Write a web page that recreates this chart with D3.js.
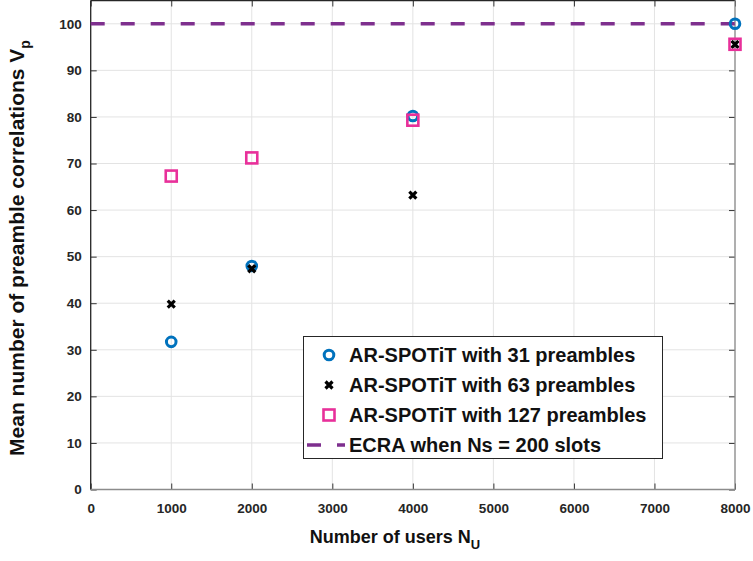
<!DOCTYPE html>
<html><head><meta charset="utf-8">
<script src="https://cdn.jsdelivr.net/npm/d3@7"></script>
<style>
html,body{margin:0;padding:0;background:#fff;}
svg{display:block;font-family:"Liberation Sans",Arial,sans-serif;}
</style></head>
<body>
<svg id="chart" width="753" height="561"></svg>
<script>
const users = [1000, 2000, 4000, 8000];
const pre31 = [31.7, 48.0, 80.2, 100.0];
const pre63 = [39.8, 47.4, 63.2, 95.6];
const pre127 = [67.3, 71.2, 79.3, 95.6];
const ecraValue = 100;
const xTicks = [0,1000,2000,3000,4000,5000,6000,7000,8000];
const yTicks = [0,10,20,30,40,50,60,70,80,90,100];
const legendLabels = ["AR-SPOTiT with 31 preambles","AR-SPOTiT with 63 preambles","AR-SPOTiT with 127 preambles","ECRA when Ns = 200 slots"];

const svg = d3.select("#chart");
const L = 90.7, R = 735, T = 0.5, B = 489.5;
const x = d3.scaleLinear().domain([0, 8000]).range([L, R]);
const y = d3.scaleLinear().domain([0, 105]).range([B, T]);

// grid
const g = svg.append("g");
g.selectAll(".vg").data(xTicks).join("line")
  .attr("x1", d => x(d)).attr("x2", d => x(d)).attr("y1", T).attr("y2", B)
  .attr("stroke", "#e3e3e3").attr("stroke-width", 1);
g.selectAll(".hg").data(yTicks).join("line")
  .attr("x1", L).attr("x2", R).attr("y1", d => y(d)).attr("y2", d => y(d))
  .attr("stroke", "#e3e3e3").attr("stroke-width", 1);

// axes
const xAxis = d3.axisBottom(x).tickValues(xTicks).tickSize(-6).tickPadding(14).tickFormat(d3.format("d"));
const yAxis = d3.axisLeft(y).tickValues(yTicks).tickSize(-6).tickPadding(9).tickFormat(d3.format("d"));
const xa = svg.append("g").attr("transform", `translate(0,${B})`).call(xAxis);
const ya = svg.append("g").attr("transform", `translate(${L},0)`).call(yAxis);
const xTop = svg.append("g").attr("transform", `translate(0,${T})`).call(d3.axisTop(x).tickValues(xTicks).tickSize(-6).tickFormat(""));
const yRight = svg.append("g").attr("transform", `translate(${R},0)`).call(d3.axisRight(y).tickValues(yTicks).tickSize(-6).tickFormat(""));
[xa, ya, xTop, yRight].forEach(a => { a.select(".domain").remove(); a.selectAll("line").attr("stroke", "#333"); });
[xa, ya].forEach(a => a.selectAll("text").attr("font-size", 13.5).attr("font-weight", "bold").attr("fill", "#262626").attr("font-family", "Liberation Sans, Arial, sans-serif"));

// box
svg.append("line").attr("x1", L).attr("x2", L).attr("y1", T).attr("y2", B).attr("stroke", "#262626").attr("stroke-width", 1.3);
svg.append("line").attr("x1", L).attr("x2", R).attr("y1", T).attr("y2", T).attr("stroke", "#262626").attr("stroke-width", 1.3);
svg.append("line").attr("x1", L).attr("x2", R).attr("y1", B).attr("y2", B).attr("stroke", "#8c8c8c").attr("stroke-width", 1.3);
svg.append("line").attr("x1", R).attr("x2", R).attr("y1", T).attr("y2", B).attr("stroke", "#8c8c8c").attr("stroke-width", 1.3);

// ECRA line
const purple = "#7E2F8E", blue = "#0072BD", pink = "#E8309A";
svg.append("line").attr("x1", x(0)).attr("x2", x(8000)).attr("y1", y(ecraValue)).attr("y2", y(ecraValue))
  .attr("stroke", purple).attr("stroke-width", 3.5).attr("stroke-dasharray", "14,16");

// markers
const plot = svg.append("g");
function circle(sel, cx, cy) {
  sel.append("circle").attr("cx", cx).attr("cy", cy).attr("r", 4.8).attr("fill", "none").attr("stroke", blue).attr("stroke-width", 3);
}
function cross(sel, cx, cy) {
  const s = 3.5;
  sel.append("path").attr("d", `M${cx-s},${cy-s}L${cx+s},${cy+s}M${cx-s},${cy+s}L${cx+s},${cy-s}`)
    .attr("stroke", "#000").attr("stroke-width", 3.2).attr("fill", "none");
}
function square(sel, cx, cy) {
  const s = 5.5;
  sel.append("rect").attr("x", cx - s).attr("y", cy - s).attr("width", 2*s).attr("height", 2*s)
    .attr("fill", "none").attr("stroke", pink).attr("stroke-width", 2.6);
}
users.forEach((u, i) => circle(plot, x(u), y(pre31[i])));
users.forEach((u, i) => cross(plot, x(u), y(pre63[i])));
users.forEach((u, i) => square(plot, x(u), y(pre127[i])));

// legend
const lg = svg.append("g");
lg.append("rect").attr("x", 303.5).attr("y", 336.5).attr("width", 359).attr("height", 122)
  .attr("fill", "#fff").attr("stroke", "#262626").attr("stroke-width", 1);
const rowY = [355, 385, 415, 445];
circle(lg, 329, rowY[0]);
cross(lg, 329, rowY[1]);
square(lg, 329, rowY[2]);
lg.append("line").attr("x1", 307).attr("x2", 345).attr("y1", rowY[3]).attr("y2", rowY[3])
  .attr("stroke", purple).attr("stroke-width", 3.5).attr("stroke-dasharray", "14,16");
lg.selectAll("text.lt").data(legendLabels).join("text")
  .attr("x", 349).attr("y", (d, i) => rowY[i]).attr("dy", "0.36em")
  .attr("font-size", 20).attr("font-weight", "bold").attr("fill", "#111").text(d => d);

// axis titles
const xt = svg.append("text").attr("x", 395).attr("y", 543).attr("text-anchor", "middle")
  .attr("font-size", 18).attr("font-weight", "bold").attr("fill", "#111");
xt.append("tspan").text("Number of users N");
xt.append("tspan").attr("font-size", 13).attr("dy", 6).text("U");

const yt = svg.append("text").attr("transform", "translate(24,248) rotate(-90)").attr("text-anchor", "middle")
  .attr("font-size", 21).attr("font-weight", "bold").attr("fill", "#111");
yt.append("tspan").text("Mean number of preamble correlations V");
yt.append("tspan").attr("font-size", 14).attr("dy", 6).text("p");
</script>
</body></html>
